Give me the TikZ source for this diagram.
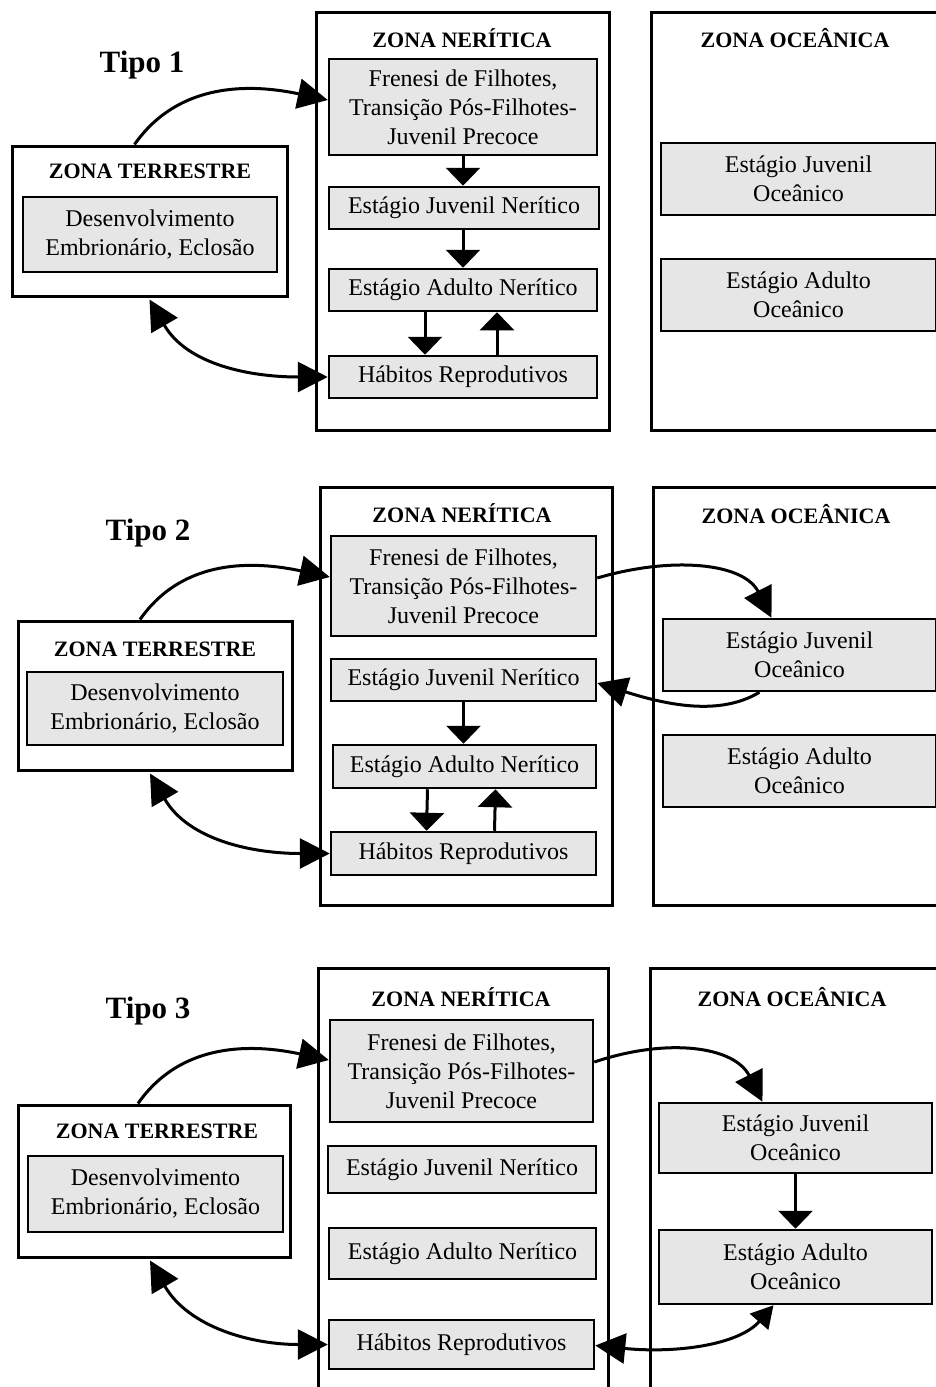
\documentclass[tikz,border=0pt]{standalone}
\usepackage{fontspec}
\setmainfont{Liberation Serif}
\usetikzlibrary{arrows.meta}
\definecolor{boxgray}{RGB}{230,230,230}
\tikzset{
  zone/.style={draw, line width=3pt, rectangle, inner sep=0pt},
  gbox/.style={draw, line width=2.5pt, fill=boxgray, align=center, inner sep=0pt, font=\fontsize{24}{29}\selectfont},
  ztitle/.style={font=\bfseries\fontsize{22}{26}\selectfont, inner sep=0pt},
  tipo/.style={font=\bfseries\fontsize{31}{36}\selectfont, inner sep=0pt},
  bigarr/.style={line width=3pt, -{Triangle[length=30pt,width=30pt]}},
  dblarr/.style={line width=3pt, {Triangle[length=30pt,width=30pt]}-{Triangle[length=30pt,width=30pt]}},
  smalldbl/.style={line width=3pt, {Triangle[length=22pt,width=24pt]}-{Triangle[length=30pt,width=30pt]}},
  smallarr/.style={line width=3pt, -{Triangle[length=18pt,width=34pt]}},
}
\begin{document}
\begin{tikzpicture}[x=1pt,y=-1pt]
\clip (0,0) rectangle (936,1387);
\fill[white] (0,0) rectangle (936,1387);

% ================= Tipo 1 =================
\node[tipo] (tipo1) at (142,65) {Tipo 1};
\node[zone, minimum width=293pt, minimum height=418pt] (n1) at (462.5,221) {};
\node[zone, minimum width=309pt, minimum height=418pt] (o1) at (805.5,221) {};
\node[ztitle] (nt1) at (462,38) {ZONA NERÍTICA};
\node[ztitle] (ot1) at (795,38) {ZONA OCEÂNICA};
\node[gbox, minimum width=268pt, minimum height=96pt] (f1) at (463,107) {Frenesi de Filhotes,\\Transição Pós-Filhotes-\\Juvenil Precoce};
\node[gbox, minimum width=270pt, minimum height=42pt] (jn1) at (464,208) {Estágio Juvenil Nerítico};
\node[gbox, minimum width=268pt, minimum height=42pt] (an1) at (463,290) {Estágio Adulto Nerítico};
\node[gbox, minimum width=268pt, minimum height=42pt] (h1) at (463,377) {Hábitos Reprodutivos};
\node[gbox, minimum width=275pt, minimum height=72pt] (jo1) at (798.5,179) {Estágio Juvenil\\Oceânico};
\node[gbox, minimum width=275pt, minimum height=72pt] (ao1) at (798.5,295) {Estágio Adulto\\Oceânico};
\node[zone, minimum width=275pt, minimum height=150pt] (t1) at (149.5,221) {};
\node[ztitle] (tt1) at (150,171) {ZONA TERRESTRE};
\node[gbox, minimum width=254pt, minimum height=75pt] (d1) at (150,234.5) {Desenvolvimento\\Embrionário, Eclosão};

\draw[smallarr] (f1.south) -- (jn1.north -| f1.south);
\draw[smallarr] (jn1.south -| f1.south) -- (an1.north -| f1.south);
\draw[smallarr] ([xshift=-38pt]an1.south) -- ([xshift=-38pt]h1.north);
\draw[smallarr] ([xshift=34pt]h1.north) -- ([xshift=34pt]an1.south);
\draw[bigarr] ([xshift=-15pt]t1.north) to[out=55,in=168] ([yshift=7pt]f1.west);
\draw[dblarr] ([yshift=-2pt]t1.south) to[out=-60,in=180] (h1.west);

% ================= Tipo 2 =================
\node[tipo] (tipo2) at (148,533) {Tipo 2};
\node[zone, minimum width=292pt, minimum height=418pt] (n2) at (466,696) {};
\node[zone, minimum width=307pt, minimum height=418pt] (o2) at (806.5,696) {};
\node[ztitle] (nt2) at (462,513) {ZONA NERÍTICA};
\node[ztitle] (ot2) at (796,514) {ZONA OCEÂNICA};
\node[gbox, minimum width=265pt, minimum height=100pt] (f2) at (463.5,586) {Frenesi de Filhotes,\\Transição Pós-Filhotes-\\Juvenil Precoce};
\node[gbox, minimum width=265pt, minimum height=42pt] (jn2) at (463.5,680) {Estágio Juvenil Nerítico};
\node[gbox, minimum width=263pt, minimum height=43pt] (an2) at (464.5,766.5) {Estágio Adulto Nerítico};
\node[gbox, minimum width=265pt, minimum height=43pt] (h2) at (463.5,853.5) {Hábitos Reprodutivos};
\node[gbox, minimum width=273pt, minimum height=72pt] (jo2) at (799.5,655) {Estágio Juvenil\\Oceânico};
\node[gbox, minimum width=273pt, minimum height=72pt] (ao2) at (799.5,771) {Estágio Adulto\\Oceânico};
\node[zone, minimum width=274pt, minimum height=149pt] (t2) at (155,695.5) {};
\node[ztitle] (tt2) at (155,649) {ZONA TERRESTRE};
\node[gbox, minimum width=256pt, minimum height=73pt] (d2) at (155,708.5) {Desenvolvimento\\Embrionário, Eclosão};

\draw[smallarr] (jn2.south) -- (an2.north -| jn2.south);
\draw[smallarr] ([xshift=-37pt]an2.south) -- ([xshift=-37pt]h2.north);
\draw[smallarr] ([xshift=31pt]h2.north) -- ([xshift=31pt]an2.south);
\draw[bigarr] ([xshift=-15pt]t2.north) to[out=55,in=168] ([yshift=9pt]f2.west);
\draw[dblarr] ([xshift=-5pt,yshift=-2pt]t2.south) to[out=-60,in=180] (h2.west);
\draw[bigarr] ([yshift=8pt]f2.east) .. controls +(75,-22) and +(-28,-55) .. ([xshift=-28pt]jo2.north);
\draw[bigarr] ([xshift=-40pt]jo2.south) .. controls +(-40,24) and +(70,22) .. ([yshift=-3pt]jn2.east);

% ================= Tipo 3 =================
\node[tipo] (tipo3) at (148,1011) {Tipo 3};
\node[zone, minimum width=290pt, minimum height=432pt] (n3) at (463,1184) {};
\node[zone, minimum width=310pt, minimum height=432pt] (o3) at (805,1184) {};
\node[ztitle] (nt3) at (461,997) {ZONA NERÍTICA};
\node[ztitle] (ot3) at (792,997) {ZONA OCEÂNICA};
\node[gbox, minimum width=263pt, minimum height=102pt] (f3) at (461.5,1071) {Frenesi de Filhotes,\\Transição Pós-Filhotes-\\Juvenil Precoce};
\node[gbox, minimum width=268pt, minimum height=47pt] (jn3) at (462,1169.5) {Estágio Juvenil Nerítico};
\node[gbox, minimum width=267pt, minimum height=51pt] (an3) at (462.5,1253.5) {Estágio Adulto Nerítico};
\node[gbox, minimum width=265pt, minimum height=49pt] (h3) at (461.5,1344.5) {Hábitos Reprodutivos};
\node[gbox, minimum width=273pt, minimum height=70pt] (jo3) at (795.5,1138) {Estágio Juvenil\\Oceânico};
\node[gbox, minimum width=273pt, minimum height=74pt] (ao3) at (795.5,1267) {Estágio Adulto\\Oceânico};
\node[zone, minimum width=272pt, minimum height=152pt] (t3) at (154,1181) {};
\node[ztitle] (tt3) at (157,1131) {ZONA TERRESTRE};
\node[gbox, minimum width=255pt, minimum height=76pt] (d3) at (155.5,1194) {Desenvolvimento\\Embrionário, Eclosão};

\draw[smallarr] (jo3.south) -- (ao3.north);
\draw[bigarr] ([xshift=-16pt]t3.north) to[out=55,in=168] ([yshift=11pt]f3.west);
\draw[dblarr] ([xshift=-4pt,yshift=-2pt]t3.south) to[out=-60,in=180] (h3.west);
\draw[bigarr] ([yshift=9pt]f3.east) .. controls +(75,-25) and +(-28,-55) .. ([xshift=-33pt]jo3.north);
\draw[smalldbl] ([xshift=-22pt]ao3.south) .. controls +(-35,40) and +(80,8) .. ([yshift=-1pt]h3.east);
\end{tikzpicture}
\end{document}
